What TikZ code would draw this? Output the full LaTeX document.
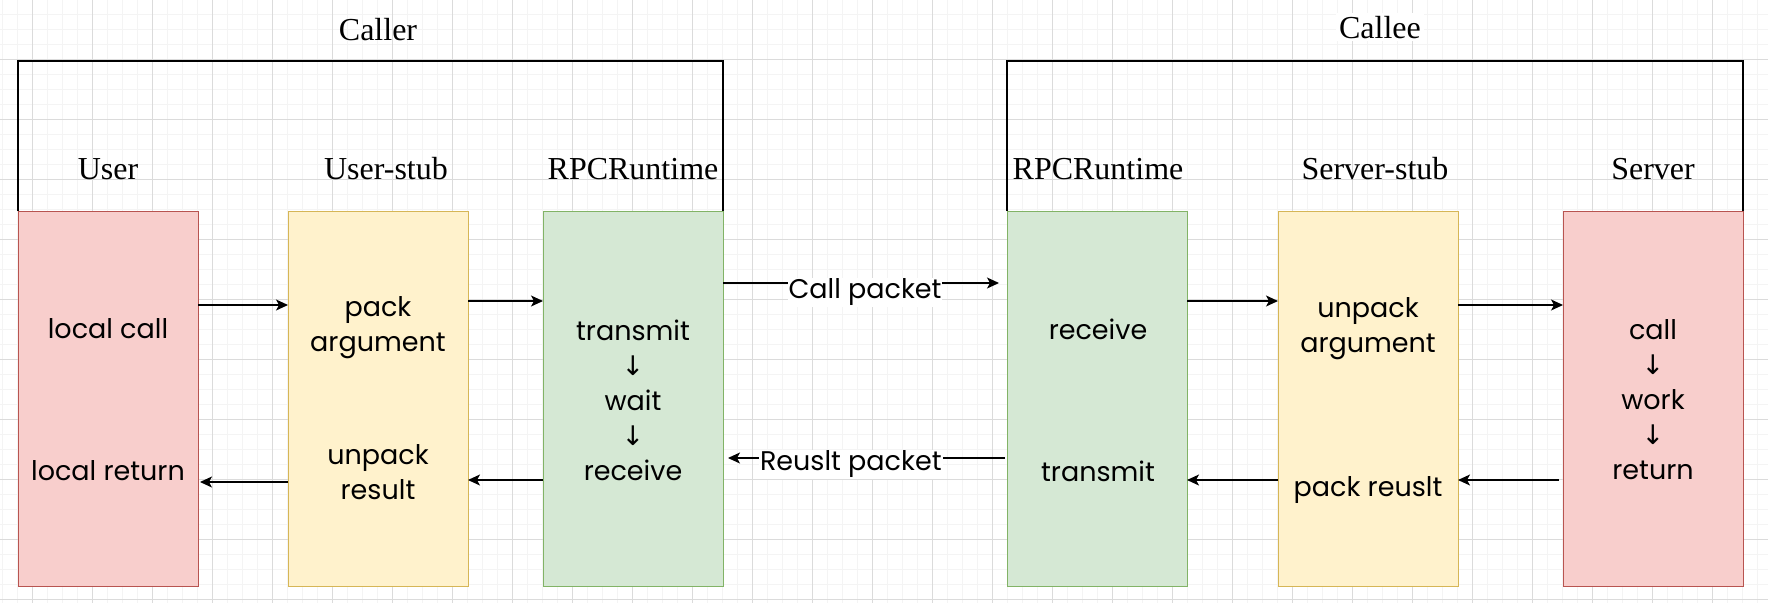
\documentclass[tikz,border=0pt]{standalone}
\usepackage{fontspec}
\setmainfont{Liberation Serif}
\newfontfamily\handfont{Poppins}
\newfontfamily\symfont{DejaVu Sans}
\usetikzlibrary{arrows.meta}
\definecolor{redfill}{HTML}{F8CECC}
\definecolor{redline}{HTML}{B85450}
\definecolor{yelfill}{HTML}{FFF2CC}
\definecolor{yelline}{HTML}{D6B656}
\definecolor{grnfill}{HTML}{D5E8D4}
\definecolor{grnline}{HTML}{82B366}
\tikzset{
  minorgrid/.style={draw=gray!9, line width=0.8pt},
  majorgrid/.style={draw=gray!28, line width=0.8pt},
  box/.style={minimum width=180pt, minimum height=375pt, inner sep=0pt, outer sep=0pt, anchor=north west, line width=0.9pt},
  redbox/.style={box, fill=redfill, draw=redline},
  yelbox/.style={box, fill=yelfill, draw=yelline},
  grnbox/.style={box, fill=grnfill, draw=grnline},
  head/.style={font=\fontsize{32}{36}\selectfont, anchor=base, inner sep=0pt},
  hand/.style={font=\handfont\fontsize{27}{35}\selectfont, align=center, inner sep=0pt},
  arr/.style={draw=black, line width=1.2pt, -{Stealth[length=12pt,width=11pt,inset=3pt]}},
  bracketline/.style={draw=black, line width=1.4pt},
  lbl/.style={font=\handfont\fontsize{27}{30}\selectfont, fill=white, inner sep=1pt}
}
\begin{document}
\begin{tikzpicture}[x=1pt,y=-1pt]
\useasboundingbox (0,0) rectangle (1768,603);
\fill[white] (0,0) rectangle (1768,603);
% background grid
\foreach \x in {2,17,...,1767} \draw[minorgrid] (\x,0) -- (\x,603);
\foreach \y in {14,29,...,602} \draw[minorgrid] (0,\y) -- (1768,\y);
\foreach \x in {32,92,...,1767} \draw[majorgrid] (\x,0) -- (\x,603);
\foreach \y in {59,119,...,602} \draw[majorgrid] (0,\y) -- (1768,\y);

% boxes
\node[redbox] (user)   at (18,211)   {};
\node[yelbox] (ustub)  at (288,211)  {};
\node[grnbox] (rpcA)   at (543,211)  {};
\node[grnbox] (rpcB)   at (1007,211) {};
\node[yelbox] (sstub)  at (1278,211) {};
\node[redbox] (server) at (1563,211) {};

% brackets
\coordinate (topline) at (0,61);
\draw[bracketline] (user.north west) -- (user.north west |- topline) -- (rpcA.north east |- topline) -- (rpcA.north east);
\draw[bracketline] (rpcB.north west) -- (rpcB.north west |- topline) -- (server.north east |- topline) -- (server.north east);

% group titles
\node[head] (caller) at (378,40) {Caller};
\node[head, fill=white, inner sep=3pt] (callee) at (1380,38) {Callee};

% column titles
\node[head] (tUser)   at (108,179)  {User};
\node[head] (tUstub)  at (386,179)  {User-stub};
\node[head] (tRpcA)   at (633,179)  {RPCRuntime};
\node[head] (tRpcB)   at (1098,179) {RPCRuntime};
\node[head] (tSstub)  at (1375,179) {Server-stub};
\node[head] (tServer) at (1653,179) {Server};

% box texts
\node[hand] (uCall)  at (108,329) {local call};
\node[hand] (uRet)   at (108,471) {local return};
\node[hand] (usPack) at (378,328) {pack\\argument};
\node[hand] (usUnp)  at (378,472) {unpack\\result};
\node[hand] (raFlow) at (633,400) {transmit\\{\symfont ↓}\\wait\\{\symfont ↓}\\receive};
\node[hand] (rbRecv) at (1098,329) {receive};
\node[hand] (rbTx)   at (1098,471) {transmit};
\node[hand] (ssUnp)  at (1368,329) {unpack\\argument};
\node[hand] (ssPack) at (1368,490) {pack reuslt};
\node[hand] (svFlow) at (1653,400) {call\\{\symfont ↓}\\work\\{\symfont ↓}\\return};

% arrow rows
\coordinate (rowA) at (0,305);
\coordinate (rowB) at (0,301);
\coordinate (rowC) at (0,283);
\coordinate (rowD) at (0,458);
\coordinate (rowE) at (0,480);
\coordinate (rowF) at (0,482);

\draw[arr] (user.east |- rowA) -- (ustub.west |- rowA);
\draw[arr] (ustub.east |- rowB) -- (rpcA.west |- rowB);
\draw[arr, shorten >=8pt] (rpcA.east |- rowC) -- node[lbl, yshift=-9pt] (callpk) {Call packet} (rpcB.west |- rowC);
\draw[arr, shorten <=2pt, shorten >=5pt] (rpcB.west |- rowD) -- node[lbl, pos=0.55, yshift=-6pt] (respk) {Reuslt packet} (rpcA.east |- rowD);
\draw[arr] (rpcA.west |- rowE) -- (ustub.east |- rowE);
\draw[arr, shorten >=2pt] (ustub.west |- rowF) -- (user.east |- rowF);

\draw[arr] (rpcB.east |- rowB) -- (sstub.west |- rowB);
\draw[arr] (sstub.east |- rowA) -- (server.west |- rowA);
\draw[arr, shorten <=4pt] (server.west |- rowE) -- (sstub.east |- rowE);
\draw[arr] (sstub.west |- rowE) -- (rpcB.east |- rowE);
\end{tikzpicture}
\end{document}
